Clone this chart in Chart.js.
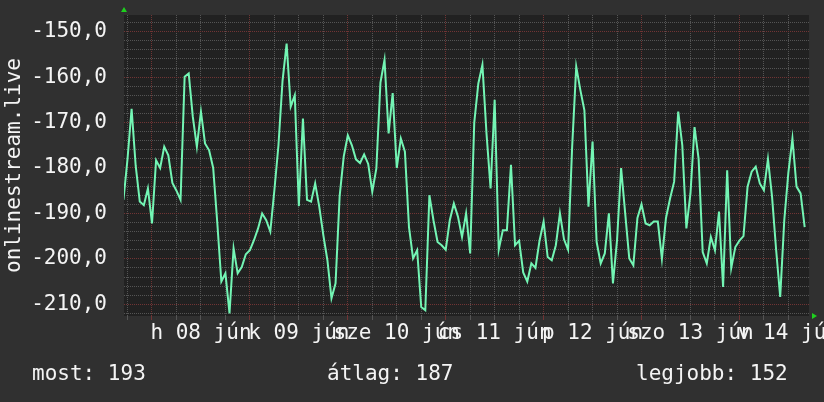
<!DOCTYPE html>
<html>
<head>
<meta charset="utf-8">
<script src="https://cdn.jsdelivr.net/npm/chart.js@4"></script>
<style>
  body { margin: 0; background: #303030; }
  #wrap { position: relative; width: 824px; height: 402px; }
  .stat { position: absolute; top: 361px; font: 21px "DejaVu Sans Mono", monospace; color: #f4f4f4; white-space: pre; }
</style>
</head>
<body>
<div id="wrap">
  <canvas id="rank" width="824" height="402"></canvas>
  <div class="stat" style="left:32px">most: 193</div>
  <div class="stat" style="left:327px">átlag: 187</div>
  <div class="stat" style="left:636px">legjobb: 152</div>
</div>
<script>
// hours from 08 jún 00:00, one value per hour
var startHour = -7;
var rankValues = [
  -187, -178, -167, -179.5, -187.4, -188.2, -184.5,
  -192.2, -178.3, -180, -175.3, -177.2, -183.3, -185, -187, -159.9, -159.2, -168.7, -175.3,
  -167.6, -174.6, -176.1, -180, -192, -205, -203.2, -212, -197.7, -203.2, -201.8, -199,
  -198.1, -195.9, -193.3, -190, -191.5, -194, -184.9, -175, -160.8, -152.6, -166.5, -164,
  -188.4, -169.1, -187, -187.4, -183.4, -188.5, -194.8, -200.3, -208.7, -205.4, -186.2, -177.5,
  -172.8, -175, -178.1, -178.9, -177, -179.1, -185.2, -180.1, -161.2, -156.2, -172.4, -163.5,
  -180, -173.5, -176.4, -193, -199.9, -198.1, -210.6, -211.3, -186, -191.5, -196.3, -197,
  -198, -191.5, -187.8, -190.7, -195.2, -190, -198.8, -170, -161.4, -157.3, -172.4, -184.5,
  -165, -198, -193.7, -193.7, -179.3, -197, -196, -203, -205, -201, -202, -196,
  -191.8, -199.6, -200.3, -197, -190, -195.7, -198, -175.3, -157.7, -162.8, -167.3, -188.5,
  -174.2, -196.3, -201, -198.8, -190, -205.4, -195.9, -180, -190, -199.9, -201.4, -191,
  -188, -192.2, -192.6, -191.8, -191.8, -200, -191, -186.7, -183, -167.6, -175, -193.3,
  -185.6, -171, -178, -198.5, -201, -195.2, -198.1, -189.6, -206.2, -180.5, -202, -197.4,
  -196, -195, -184.1, -180.8, -179.7, -183.4, -184.9, -178, -186.3, -198, -208.4, -191.5,
  -181, -173.5, -184.1, -185.6, -193
];
var dayLabels = ['h 08 jún', 'k 09 jún', 'sze 10 jún', 'cs 11 jún', 'p 12 jún', 'szo 13 jún', 'v 14 jún'];

var xTicks = [];
for (var t = -6; t <= 156; t += 6) xTicks.push(t);
var yTicks = [];
for (var v = -212; v <= -148; v += 2) yTicks.push(v);

var points = rankValues.map(function(val, i) {
    return { x: startHour + i, y: val };
});

var red = 'rgb(112, 52, 52)';
var gray = 'rgb(84, 84, 84)';

var frame = {
    id: 'frame',
    beforeDraw: function(chart) {
        var c = chart.ctx, a = chart.chartArea;
        c.save();
        c.fillStyle = '#212121';
        c.fillRect(a.left, a.top, a.right - a.left, a.bottom - a.top);
        c.restore();
    },
    afterDraw: function(chart) {
        var c = chart.ctx, a = chart.chartArea;
        c.save();
        c.fillStyle = '#1ed01e';
        // arrow at top of y axis
        c.beginPath();
        c.moveTo(a.left - 3, a.top - 3);
        c.lineTo(a.left + 3, a.top - 3);
        c.lineTo(a.left, a.top - 8);
        c.fill();
        // arrow at end of x axis
        c.beginPath();
        c.moveTo(a.right + 3, a.bottom - 3);
        c.lineTo(a.right + 3, a.bottom + 3);
        c.lineTo(a.right + 8, a.bottom);
        c.fill();
        c.restore();
    }
};

function noPad(scale) {
    scale.paddingTop = 0;
    scale.paddingBottom = 0;
    scale.paddingLeft = 0;
    scale.paddingRight = 0;
}

var ctx = document.getElementById('rank').getContext('2d');
var rankChart = new Chart(ctx, {
    type: 'line',
    data: {
        datasets: [{
            data: points,
            borderColor: 'rgb(115, 245, 180)',
            borderWidth: 2,
            pointRadius: 0,
            tension: 0
        }]
    },
    options: {
        responsive: false,
        animation: false,
        layout: { autoPadding: false, padding: { top: 15, right: 15, left: 0, bottom: 0 } },
        plugins: { legend: { display: false }, tooltip: { enabled: false } },
        scales: {
            x: {
                type: 'linear',
                min: -6.864,
                max: 161.06,
                afterBuildTicks: function(scale) {
                    scale.ticks = xTicks.map(function(t) { return { value: t }; });
                },
                afterFit: function(scale) { scale.height = 86; noPad(scale); },
                grid: {
                    color: function(c) { return c.tick && c.tick.value % 24 === 0 ? red : gray; },
                    tickLength: 4,
                    tickColor: function(c) { return c.tick && c.tick.value % 24 === 0 ? red : gray; }
                },
                border: { display: false, dash: [1, 1] },
                ticks: {
                    autoSkip: false,
                    maxRotation: 0,
                    padding: 1,
                    color: '#f4f4f4',
                    font: { family: 'DejaVu Sans Mono', size: 21 },
                    callback: function(value) {
                        return value % 24 === 12 ? dayLabels[(value - 12) / 24] : '';
                    }
                }
            },
            y: {
                min: -212.58,
                max: -146.32,
                afterBuildTicks: function(scale) {
                    scale.ticks = yTicks.map(function(t) { return { value: t }; });
                },
                afterFit: function(scale) { scale.width = 124; noPad(scale); },
                grid: {
                    color: function(c) { return c.tick && c.tick.value % 10 === 0 ? red : gray; },
                    drawTicks: false
                },
                border: { display: false, dash: [1, 1] },
                title: {
                    display: true,
                    text: 'onlinestream.live',
                    color: '#f4f4f4',
                    font: { family: 'DejaVu Sans Mono', size: 21 },
                    padding: { top: 2, bottom: 0 }
                },
                ticks: {
                    autoSkip: false,
                    padding: 17,
                    color: '#f4f4f4',
                    font: { family: 'DejaVu Sans Mono', size: 21 },
                    callback: function(value) {
                        return value % 10 === 0 ? value.toFixed(1).replace('.', ',') : '';
                    }
                }
            }
        }
    },
    plugins: [frame]
});
</script>
</body>
</html>
